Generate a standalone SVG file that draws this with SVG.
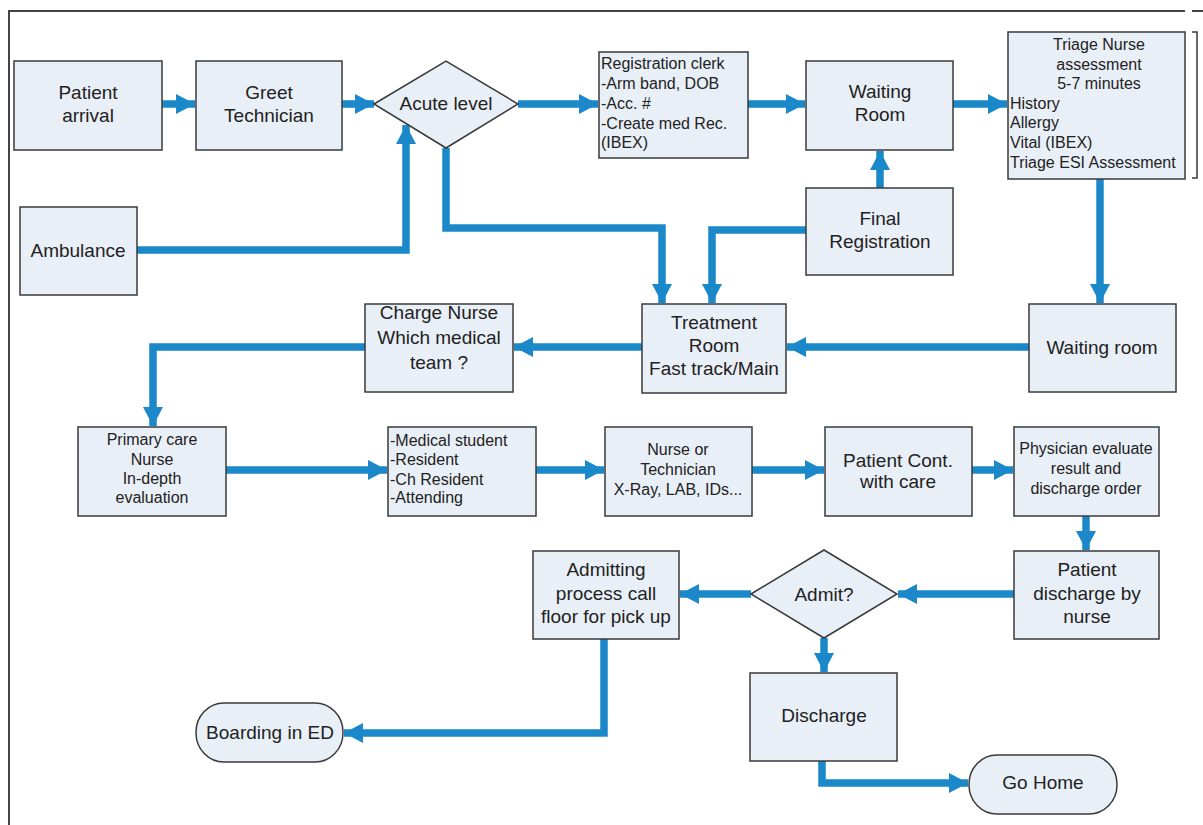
<svg xmlns="http://www.w3.org/2000/svg" width="1203" height="825" viewBox="0 0 1203 825">
<style>
.box{fill:#e9eff7;stroke:#3a3a3a;stroke-width:1.5}
.t{font-family:"Liberation Sans",Arial,sans-serif;font-size:19px;fill:#222;text-anchor:middle}
.s{font-family:"Liberation Sans",Arial,sans-serif;font-size:16px;fill:#222;text-anchor:middle}
.l{text-anchor:start}
.c{fill:none;stroke:#1a88c9;stroke-width:7.5;marker-end:url(#ah)}
.frame{fill:none;stroke:#444;stroke-width:2}
</style>
<defs>
<marker id="ah" markerUnits="userSpaceOnUse" markerWidth="20" markerHeight="21" refX="19" refY="10" orient="auto">
<path d="M0,0 L19,10 L0,20 Z" fill="#1a88c9"/>
</marker>
</defs>
<rect width="1203" height="825" fill="#fff"/>
<g id="frame">
<path class="frame" d="M9,825 V11 H1185 M1192,11 H1203"/>
</g>
<g id="connectors">
<path class="c" d="M162,104 H195"/>
<path class="c" d="M342,104 H374"/>
<path class="c" d="M518,104 H598"/>
<path class="c" d="M748,104 H805"/>
<path class="c" d="M953,104 H1007"/>
<path class="c" d="M1100,179 V303"/>
<path class="c" d="M1029,347 H787"/>
<path class="c" d="M642,347 H514"/>
<path class="c" d="M365,347 H153 V426"/>
<path class="c" d="M880,188 V151"/>
<path class="c" d="M806,230 H712 V303"/>
<path class="c" d="M446,148 V228 H662 V303"/>
<path class="c" d="M137,250 H406 V125"/>
<path class="c" d="M226,470 H387"/>
<path class="c" d="M536,470 H604"/>
<path class="c" d="M752,470 H824"/>
<path class="c" d="M972,470 H1013"/>
<path class="c" d="M1086,516 V550"/>
<path class="c" d="M1014,594 H898"/>
<path class="c" d="M751,594 H680"/>
<path class="c" d="M824,638 V672"/>
<path class="c" d="M604,639 V733 H344"/>
<path class="c" d="M822,761 V783 H968"/>
</g>
<g id="patient-arrival">
<rect class="box" x="14" y="61" width="148" height="89"/>
<text class="t" x="88" y="99">Patient</text>
<text class="t" x="88" y="122">arrival</text>
</g>
<g id="greet-technician">
<rect class="box" x="196" y="61" width="146" height="89"/>
<text class="t" x="269" y="99">Greet</text>
<text class="t" x="269" y="122">Technician</text>
</g>
<g id="acute-level">
<path class="box" d="M374,104 L446,61 L518,104 L446,148 Z"/>
<text class="t" x="446" y="110">Acute level</text>
</g>
<g id="registration-clerk">
<rect class="box" x="599" y="52" width="149" height="106"/>
<text class="s l" x="601" y="69">Registration clerk</text>
<text class="s l" x="601" y="89">-Arm band, DOB</text>
<text class="s l" x="601" y="109">-Acc. #</text>
<text class="s l" x="601" y="129">-Create med Rec.</text>
<text class="s l" x="601" y="148">(IBEX)</text>
</g>
<g id="waiting-room-1">
<rect class="box" x="806" y="61" width="147" height="89"/>
<text class="t" x="880" y="98">Waiting</text>
<text class="t" x="880" y="121">Room</text>
</g>
<g id="triage-nurse">
<rect class="box" x="1008" y="32" width="177" height="147"/>
<path d="M1192,32 H1197 V178 H1192" fill="none" stroke="#3a3a3a" stroke-width="1.5"/>
<text class="s" x="1099" y="50">Triage Nurse</text>
<text class="s" x="1099" y="70">assessment</text>
<text class="s" x="1099" y="89">5-7 minutes</text>
<text class="s l" x="1010" y="109">History</text>
<text class="s l" x="1010" y="128">Allergy</text>
<text class="s l" x="1010" y="148">Vital (IBEX)</text>
<text class="s l" x="1010" y="168">Triage ESI Assessment</text>
</g>
<g id="final-registration">
<rect class="box" x="806" y="188" width="147" height="87"/>
<text class="t" x="880" y="225">Final</text>
<text class="t" x="880" y="248">Registration</text>
</g>
<g id="ambulance">
<rect class="box" x="20" y="207" width="117" height="88"/>
<text class="t" x="78" y="257">Ambulance</text>
</g>
<g id="treatment-room">
<rect class="box" x="642" y="304" width="144" height="89"/>
<text class="t" x="714" y="329">Treatment</text>
<text class="t" x="714" y="352">Room</text>
<text class="t" x="714" y="375">Fast track/Main</text>
</g>
<g id="waiting-room-2">
<rect class="box" x="1029" y="304" width="147" height="88"/>
<text class="t" x="1102" y="354">Waiting room</text>
</g>
<g id="charge-nurse">
<rect class="box" x="365" y="304" width="148" height="88"/>
<text class="t" x="439" y="319">Charge Nurse</text>
<text class="t" x="439" y="344">Which medical</text>
<text class="t" x="439" y="369">team ?</text>
</g>
<g id="primary-care">
<rect class="box" x="78" y="427" width="148" height="89"/>
<text class="s" x="152" y="445">Primary care</text>
<text class="s" x="152" y="465">Nurse</text>
<text class="s" x="152" y="484">In-depth</text>
<text class="s" x="152" y="503">evaluation</text>
</g>
<g id="medical-team">
<rect class="box" x="388" y="427" width="148" height="89"/>
<text class="s l" x="390" y="446">-Medical student</text>
<text class="s l" x="390" y="465">-Resident</text>
<text class="s l" x="390" y="485">-Ch Resident</text>
<text class="s l" x="390" y="503">-Attending</text>
</g>
<g id="nurse-technician">
<rect class="box" x="605" y="427" width="147" height="89"/>
<text class="s" x="678" y="455">Nurse or</text>
<text class="s" x="678" y="475">Technician</text>
<text class="s" x="678" y="495">X-Ray, LAB, IDs...</text>
</g>
<g id="patient-cont">
<rect class="box" x="825" y="427" width="147" height="89"/>
<text class="t" x="898" y="467">Patient Cont.</text>
<text class="t" x="898" y="488">with care</text>
</g>
<g id="physician-evaluate">
<rect class="box" x="1014" y="427" width="145" height="89"/>
<text class="s" x="1086" y="454">Physician evaluate</text>
<text class="s" x="1086" y="474">result and</text>
<text class="s" x="1086" y="494">discharge order</text>
</g>
<g id="patient-discharge">
<rect class="box" x="1014" y="551" width="145" height="88"/>
<text class="t" x="1087" y="576">Patient</text>
<text class="t" x="1087" y="600">discharge by</text>
<text class="t" x="1087" y="623">nurse</text>
</g>
<g id="admit">
<path class="box" d="M751,594 L824,550 L897,594 L824,638 Z"/>
<text class="t" x="824" y="601">Admit?</text>
</g>
<g id="admitting-process">
<rect class="box" x="533" y="551" width="146" height="88"/>
<text class="t" x="606" y="576">Admitting</text>
<text class="t" x="606" y="600">process call</text>
<text class="t" x="606" y="623">floor for pick up</text>
</g>
<g id="discharge">
<rect class="box" x="750" y="673" width="147" height="88"/>
<text class="t" x="824" y="722">Discharge</text>
</g>
<g id="boarding-ed">
<rect class="box" x="196" y="703" width="147" height="59" rx="28" ry="29"/>
<text class="t" x="270" y="739">Boarding in ED</text>
</g>
<g id="go-home">
<rect class="box" x="969" y="755" width="148" height="59" rx="28" ry="29"/>
<text class="t" x="1043" y="789">Go Home</text>
</g>
</svg>
